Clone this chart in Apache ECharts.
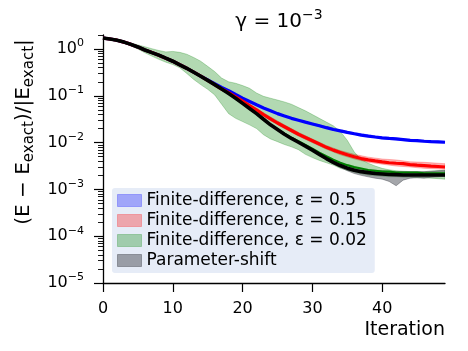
<!DOCTYPE html>
<html>
<head>
<meta charset="utf-8">
<script src="https://cdn.jsdelivr.net/npm/echarts@6/dist/echarts.min.js"></script>
<style>
  html, body { margin: 0; padding: 0; background: #fff; }
  #chart { width: 468px; height: 351px; }
</style>
</head>
<body>
<div id="chart"></div>
<script>
// ------------------------------------------------------- //
// Data
// ------------------------------------------------------ //
var iterations = [0,1,2,3,4,5,6,7,8,9,10,11,12,13,14,15,16,17,18,19,20,21,22,23,24,
    25,26,27,28,29,30,31,32,33,34,35,36,37,38,39,40,41,42,43,44,45,46,47,48,49];

// mean error, parameter-shift
var shiftMean = [1.72,1.64,1.55,1.41,1.26,1.11,0.955,0.841,0.741,0.638,0.550,0.462,0.389,0.320,0.263,
    0.214,0.174,0.140,0.112,0.0891,0.0692,0.0537,0.0417,0.0316,0.0240,0.0191,0.0151,0.0123,0.0102,0.00841,
    0.00692,0.00562,0.00457,0.00380,0.00324,0.00285,0.00257,0.00240,0.00229,0.00219,0.00214,0.00209,0.00207,
    0.00204,0.00204,0.00204,0.00203,0.00203,0.00203,0.00203];

// finite-difference eps = 0.5
var fd05Mean = [1.72,1.64,1.55,1.41,1.26,1.11,0.955,0.841,0.741,0.638,0.550,0.462,0.389,0.320,0.263,
    0.219,0.182,0.151,0.129,0.107,0.0891,0.0759,0.0646,0.0550,0.0479,0.0417,0.0372,0.0331,0.0302,0.0275,
    0.0251,0.0229,0.0209,0.0191,0.0178,0.0166,0.0155,0.0145,0.0138,0.0132,0.0127,0.0123,0.0120,0.0116,
    0.0112,0.0110,0.0107,0.0105,0.0104,0.0102];

// finite-difference eps = 0.15
var fd015Mean = [1.72,1.64,1.55,1.41,1.26,1.11,0.955,0.841,0.741,0.638,0.550,0.462,0.389,0.320,0.263,
    0.214,0.174,0.140,0.117,0.0955,0.0776,0.0617,0.0501,0.0398,0.0324,0.0263,0.0219,0.0182,0.0151,0.0129,
    0.0110,0.00933,0.00794,0.00692,0.00617,0.00550,0.00501,0.00457,0.00427,0.00407,0.00389,0.00372,0.00363,
    0.00355,0.00339,0.00331,0.00324,0.00316,0.00309,0.00302];

// finite-difference eps = 0.02
var fd002Mean = [1.72,1.64,1.55,1.41,1.26,1.11,0.955,0.841,0.741,0.638,0.550,0.462,0.389,0.320,0.263,
    0.214,0.174,0.140,0.112,0.0891,0.0692,0.0537,0.0417,0.0316,0.0240,0.0195,0.0155,0.0127,0.0107,0.0089,
    0.0074,0.0061,0.0051,0.0043,0.0037,0.0033,0.0030,0.0028,0.0026,0.0025,0.0024,0.0024,0.0023,0.0023,
    0.0023,0.0023,0.0022,0.0022,0.0022,0.0022];
var fd002Upper = [1.74,1.66,1.58,1.48,1.35,1.23,1.12,1.02,0.933,0.871,0.891,0.851,0.776,0.661,0.550,
    0.427,0.331,0.240,0.200,0.186,0.166,0.145,0.115,0.0977,0.0891,0.0813,0.0741,0.0661,0.0562,0.0479,
    0.0398,0.0331,0.0275,0.0229,0.0174,0.0112,0.00631,0.00437,0.00363,0.00316,0.00282,0.00263,0.00251,
    0.00245,0.00240,0.00240,0.00240,0.00245,0.00251,0.00251];
var fd002Lower = [1.70,1.62,1.51,1.35,1.17,1.00,0.832,0.708,0.603,0.525,0.468,0.398,0.302,0.224,0.174,
    0.138,0.105,0.0661,0.0417,0.0331,0.0282,0.0240,0.0200,0.0148,0.0120,0.0105,0.00912,0.00813,0.00708,
    0.00562,0.00479,0.00417,0.00372,0.00331,0.00282,0.00257,0.00234,0.00214,0.00200,0.00195,0.00191,
    0.00186,0.00186,0.00182,0.00182,0.00178,0.00178,0.00174,0.00170,0.00166];

// spread of parameter-shift runs (only visible at the end)
var shiftIters = [30,31,32,33,34,35,36,37,38,39,40,41,42,43,44,45,46,47,48,49];
var shiftUpper = [0.00724,0.00603,0.00490,0.00407,0.00347,0.00309,0.00282,0.00269,0.00263,0.00257,
    0.00251,0.00245,0.00240,0.00240,0.00240,0.00240,0.00240,0.00245,0.00251,0.00257];
var shiftLower = [0.00661,0.00525,0.00427,0.00347,0.00295,0.00251,0.00219,0.00200,0.00186,0.00174,
    0.00166,0.00148,0.00120,0.00158,0.00174,0.00178,0.00174,0.00182,0.00186,0.00191];

// spread eps = 0.15
var fd015Iters = [20,22,24,26,28,30,32,34,36,38,40,42,44,46,48,49];
var fd015Upper = [0.0813,0.0537,0.0355,0.0240,0.0166,0.0120,0.00871,0.00676,0.00562,0.00490,0.00447,
    0.00427,0.00389,0.00380,0.00363,0.00355];
var fd015Lower = [0.0741,0.0468,0.0295,0.0200,0.0138,0.0100,0.00724,0.00550,0.00447,0.00380,0.00347,
    0.00316,0.00302,0.00282,0.00275,0.00269];

// spread eps = 0.5
var fd05Iters = [30,35,40,45,49];
var fd05Upper = [0.0263,0.0174,0.0132,0.0115,0.0107];
var fd05Lower = [0.0240,0.0158,0.0120,0.0105,0.0098];

var xTicks = [0, 10, 20, 30, 40];
var yTicks = [1e-5, 1e-4, 1e-3, 1e-2, 1e-1, 1];
var minorMantissa = [2, 3, 4, 5, 6, 7, 8, 9];

var names = ['Finite-difference, ε = 0.5', 'Finite-difference, ε = 0.15',
    'Finite-difference, ε = 0.02', 'Parameter-shift'];

// ------------------------------------------------------- //
// helpers
// ------------------------------------------------------ //
var yMinor = [];
yTicks.forEach(function (t) {
    minorMantissa.forEach(function (m) {
        var v = t * m;
        if (v <= 2) yMinor.push(v);
    });
});

function pairs(xs, ys) {
    return xs.map(function (x, k) { return [x, ys[k]]; });
}

function bandSeries(name, xs, lo, hi, fill, stroke) {
    return {
        name: name,
        type: 'custom',
        clip: true,
        z: 1,
        itemStyle: {color: fill, borderColor: stroke},
        data: xs.map(function (x, k) { return [x, lo[k], hi[k]]; }),
        encode: {x: 0, y: [1, 2]},
        renderItem: function (params, api) {
            if (params.dataIndex !== 0) return null;
            var pts = [];
            for (var k = 0; k < xs.length; k++) pts.push(api.coord([xs[k], hi[k]]));
            for (var j = xs.length - 1; j >= 0; j--) pts.push(api.coord([xs[j], lo[j]]));
            return {
                type: 'polygon',
                shape: {points: pts},
                style: {fill: fill, stroke: stroke, lineWidth: 1}
            };
        }
    };
}

function lineSeries(name, ys, color, width, z) {
    return {
        name: name,
        type: 'line',
        data: pairs(iterations, ys),
        showSymbol: false,
        z: z,
        lineStyle: {color: color, width: width},
        itemStyle: {color: color}
    };
}

var font = 'DejaVu Sans';
var gridLeft = 103, gridRight = 23;
var gridWidth = 468 - gridLeft - gridRight;

var chart = echarts.init(document.getElementById('chart'));
var option = {
    animation: false,
    title: {
        text: '{n|γ = 10}{s|−3}',
        left: 274,
        textAlign: 'center',
        top: 3,
        textStyle: {
            rich: {
                n: {fontFamily: font, fontSize: 20, fontWeight: 'normal', color: '#000', lineHeight: 28},
                s: {fontFamily: font, fontSize: 14, fontWeight: 'normal', color: '#000', lineHeight: 14, verticalAlign: 'top'}
            }
        }
    },
    grid: {left: gridLeft, right: gridRight, top: 35, bottom: 68},
    legend: {
        orient: 'vertical',
        left: 112,
        top: 188,
        selectedMode: false,
        backgroundColor: '#e6ecf7',
        borderRadius: 3,
        padding: [4, 8, 4, 5],
        itemWidth: 24,
        itemHeight: 12,
        itemGap: 3,
        icon: 'rect',
        textStyle: {fontFamily: font, fontSize: 17, color: '#000', lineHeight: 17},
        data: [
            {name: names[0], itemStyle: {color: 'rgba(0,0,255,0.3)', borderColor: 'rgba(0,0,255,0.25)', borderWidth: 1}},
            {name: names[1], itemStyle: {color: 'rgba(255,0,0,0.3)', borderColor: 'rgba(255,0,0,0.25)', borderWidth: 1}},
            {name: names[2], itemStyle: {color: 'rgba(0,128,0,0.3)', borderColor: 'rgba(0,128,0,0.25)', borderWidth: 1}},
            {name: names[3], itemStyle: {color: 'rgba(90,92,100,0.55)', borderColor: 'rgba(60,62,70,0.4)', borderWidth: 1}}
        ]
    },
    xAxis: {
        type: 'value',
        min: 0,
        max: 49,
        interval: 10,
        name: 'Iteration',
        nameLocation: 'end',
        nameGap: 0,
        nameTextStyle: {fontFamily: font, fontSize: 19, color: '#000', align: 'right', verticalAlign: 'top', padding: [38, 0, 0, 0]},
        axisLine: {onZero: false, lineStyle: {color: '#000', width: 1.3}},
        axisTick: {customValues: xTicks, length: 9, lineStyle: {color: '#000', width: 1.2}},
        axisLabel: {customValues: xTicks, margin: 18, fontFamily: font, fontSize: 16, color: '#000'},
        splitLine: {show: false}
    },
    yAxis: [{
        type: 'log',
        min: 1e-5,
        max: 2,
        position: 'left',
        name: '{n|(E − E}{b|exact}{n|)/|E}{b|exact}{n||}',
        nameLocation: 'middle',
        nameRotate: 90,
        nameGap: 59,
        nameTextStyle: {
            padding: [0, 0, 0, 54],
            rich: {
                n: {fontFamily: font, fontSize: 20, color: '#000', lineHeight: 25},
                b: {fontFamily: font, fontSize: 15, color: '#000', lineHeight: 15, verticalAlign: 'bottom'}
            }
        },
        axisLine: {onZero: false, lineStyle: {color: '#000', width: 1.3}},
        axisTick: {customValues: yTicks, length: 9, lineStyle: {color: '#000', width: 1.2}},
        axisLabel: {
            customValues: yTicks,
            margin: 19,
            formatter: function (v) {
                var e = Math.round(Math.log10(v));
                return '{n|10}{s|' + (e < 0 ? '−' + (-e) : e) + '}';
            },
            rich: {
                n: {fontFamily: font, fontSize: 16, color: '#000', lineHeight: 22},
                s: {fontFamily: font, fontSize: 11, color: '#000', lineHeight: 12, verticalAlign: 'top'}
            }
        },
        splitLine: {show: false}
    }, {
        // minor ticks: placed on the right slot, shifted back onto the left spine
        type: 'log',
        min: 1e-5,
        max: 2,
        position: 'right',
        offset: -gridWidth,
        axisLine: {show: false, onZero: false},
        axisTick: {customValues: yMinor, inside: true, length: 5, lineStyle: {color: '#000', width: 0.9}},
        axisLabel: {show: false},
        splitLine: {show: false}
    }],
    series: [
        bandSeries(names[0], fd05Iters, fd05Lower, fd05Upper, 'rgba(0,0,255,0.3)', 'rgba(0,0,255,0.25)'),
        bandSeries(names[1], fd015Iters, fd015Lower, fd015Upper, 'rgba(255,0,0,0.3)', 'rgba(255,0,0,0.25)'),
        bandSeries(names[2], iterations, fd002Lower, fd002Upper, 'rgba(0,128,0,0.3)', 'rgba(0,128,0,0.25)'),
        bandSeries(names[3], shiftIters, shiftLower, shiftUpper, 'rgba(90,92,100,0.55)', 'rgba(60,62,70,0.4)'),
        lineSeries('fd05 mean', fd05Mean, '#0000ff', 3.2, 3),
        lineSeries('fd015 mean', fd015Mean, '#ff0000', 3.2, 4),
        lineSeries('fd002 mean', fd002Mean, '#008000', 2.2, 5),
        lineSeries('shift mean', shiftMean, '#000000', 3.6, 6)
    ]
};
chart.setOption(option);
</script>
</body>
</html>
